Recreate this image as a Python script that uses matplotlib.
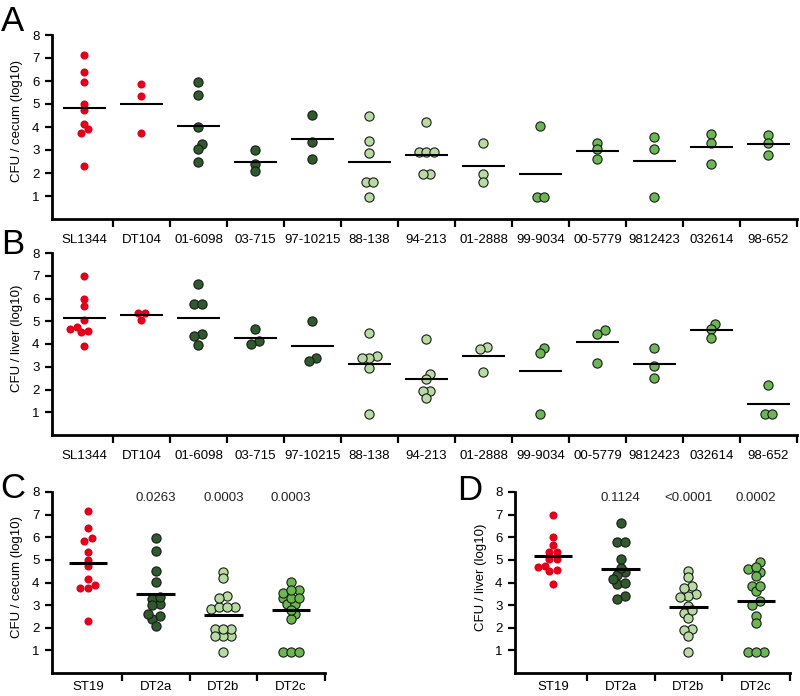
import matplotlib
matplotlib.use('Agg')
import matplotlib.pyplot as plt
from matplotlib.ticker import FixedLocator, NullFormatter
import numpy as np

plt.rcParams['font.family'] = ['Liberation Sans', 'DejaVu Sans']

# strains (panels A and B) and the pooled group each one belongs to (panels C and D)
strains = ['SL1344', 'DT104', '01-6098', '03-715', '97-10215', '88-138', '94-213',
           '01-2888', '99-9034', '00-5779', '9812423', '032614', '98-652']
strain_group = ['ST19', 'ST19', 'DT2a', 'DT2a', 'DT2a', 'DT2b', 'DT2b',
                'DT2b', 'DT2c', 'DT2c', 'DT2c', 'DT2c', 'DT2c']
groups = ['ST19', 'DT2a', 'DT2b', 'DT2c']

# CFU / cecum (log10)
cecum = [
    [7.15, 6.4, 5.95, 4.98, 4.72, 4.15, 3.9, 3.75, 2.3],
    [5.85, 5.35, 3.75],
    [5.95, 5.4, 4.02, 3.27, 3.03, 2.5],
    [3.0, 2.38, 2.07],
    [4.53, 3.36, 2.6],
    [4.48, 3.4, 2.85, 1.63, 1.63, 0.94],
    [4.22, 2.9, 2.9, 2.9, 1.95, 1.95],
    [3.32, 1.95, 1.62],
    [4.04, 0.94, 0.94],
    [3.3, 3.03, 2.6],
    [3.55, 3.06, 0.94],
    [3.68, 3.32, 2.4],
    [3.65, 3.32, 2.77],
]

# CFU / liver (log10)
liver = [
    [6.98, 6.0, 5.65, 5.05, 4.75, 4.68, 4.56, 4.52, 3.92],
    [5.37, 5.35, 5.06],
    [6.63, 5.78, 5.78, 4.46, 4.34, 3.95],
    [4.64, 4.15, 4.0],
    [5.03, 3.39, 3.27],
    [4.49, 3.49, 3.39, 3.38, 2.95, 0.94],
    [4.23, 2.66, 2.44, 1.95, 1.92, 1.63],
    [3.86, 3.76, 2.77],
    [3.83, 3.61, 0.94],
    [4.61, 4.45, 3.17],
    [3.83, 3.02, 2.51],
    [4.9, 4.68, 4.27],
    [2.2, 0.94, 0.94],
]

pvals_cecum = ['', '0.0263', '0.0003', '0.0003']
pvals_liver = ['', '0.1124', '<0.0001', '0.0002']

colors = {'ST19': '#e3001b', 'DT2a': '#2e5a2c', 'DT2b': '#b6dca2', 'DT2c': '#6cb653'}


def swarm(values, center, xpx, ypx, dpx=8.0, row_px=3.5, dcol=5.5):
    # rows of near-equal values are spread side by side and centred,
    # a whole row is shifted sideways when it would sit on points already placed
    vals = np.asarray(values, dtype=float)
    order = np.argsort(vals)
    rows = []
    for i in order:
        if rows and (vals[i] - vals[rows[-1][0]]) * ypx < row_px:
            rows[-1].append(i)
        else:
            rows.append([i])
    shifts = [0.0]
    for k in range(1, 12):
        shifts += [k * dpx / 2, -k * dpx / 2]
    xs = np.zeros(len(vals))
    placed = []
    for row in rows:
        n = len(row)
        base = [(k - (n - 1) / 2) * dpx for k in range(n)]
        for sh in shifts:
            ok = True
            for b, i in zip(base, row):
                for px, j in placed:
                    if np.hypot(b + sh - px, (vals[i] - vals[j]) * ypx) < dcol:
                        ok = False
                        break
                if not ok:
                    break
            if ok:
                break
        for b, i in zip(base, row):
            placed.append((b + sh, i))
            xs[i] = center + (b + sh) / xpx
    return xs


def draw_panel(ax, names, data, group_of, ylabel, ylab_x, line_w, line_lw, xpx,
               label_pad, pvals=None):
    ypx = 22.8
    for i, (name, vals) in enumerate(zip(names, data)):
        g = group_of[i]
        xs = swarm(vals, i, xpx, ypx, dpx=8.0 if g != 'ST19' else 7.5)
        if g == 'ST19':
            ax.scatter(xs, vals, s=34, color=colors[g], linewidths=0, zorder=3)
        else:
            ax.scatter(xs, vals, s=44, color=colors[g], edgecolors='#1a1a1a',
                       linewidths=0.8, zorder=3)
        m = np.mean(vals)
        ax.plot([i - line_w / 2, i + line_w / 2], [m, m], color='black', lw=line_lw,
                solid_capstyle='butt', zorder=4)
        if pvals is not None and pvals[i]:
            ax.text(i, 7.72, pvals[i], ha='center', va='center', fontsize=9.5, color='#222222')
    n = len(names)
    ax.set_ylim(0, 8)
    ax.set_yticks(range(1, 9))
    ax.set_ylabel(ylabel, fontsize=9.5)
    ax.yaxis.set_label_coords(ylab_x, 0.53)
    ax.xaxis.set_major_locator(FixedLocator(np.arange(n) + 0.5))
    ax.xaxis.set_major_formatter(NullFormatter())
    ax.xaxis.set_minor_locator(FixedLocator(np.arange(n)))
    ax.set_xticklabels(names, minor=True)
    ax.tick_params(axis='x', which='major', length=6, width=1.6, direction='out')
    ax.tick_params(axis='x', which='minor', length=0, pad=label_pad, labelsize=9.5)
    ax.tick_params(axis='y', length=5, width=1.6, direction='out', labelsize=9.5, pad=4)
    for s in ['top', 'right']:
        ax.spines[s].set_visible(False)
    for s in ['left', 'bottom']:
        ax.spines[s].set_linewidth(2.0)


fig = plt.figure(figsize=(8, 6.96), dpi=100)
W, H = 800, 696


def add_axes(x0, x1, ytop, ybot):
    return fig.add_axes([x0 / W, 1 - ybot / H, (x1 - x0) / W, (ybot - ytop) / H])


axA = add_axes(52, 797, 35, 219)
draw_panel(axA, strains, cecum, strain_group, 'CFU / cecum (log10)', -0.039,
           0.74, 1.5, 57.1, 11)
axA.set_xlim(-0.57, 12.5)

axB = add_axes(52, 797, 253, 435)
draw_panel(axB, strains, liver, strain_group, 'CFU / liver (log10)', -0.039,
           0.74, 1.5, 57.1, 11)
axB.set_xlim(-0.57, 12.5)

# pooled data for panels C and D
pooled_cecum = [sum((cecum[i] for i in range(len(strains)) if strain_group[i] == g), [])
                for g in groups]
pooled_liver = [sum((liver[i] for i in range(len(strains)) if strain_group[i] == g), [])
                for g in groups]

axC = add_axes(52, 325, 492, 673)
draw_panel(axC, groups, pooled_cecum, groups, 'CFU / cecum (log10)', -0.106,
           0.57, 2.2, 68, 6, pvals_cecum)
axC.set_xlim(-0.53, 3.5)

axD = add_axes(515, 790, 492, 673)
draw_panel(axD, groups, pooled_liver, groups, 'CFU / liver (log10)', -0.102,
           0.57, 2.2, 68, 6, pvals_liver)
axD.set_xlim(-0.56, 3.5)

for letter, x, y in [('A', 1, 31), ('B', 1, 254), ('C', 0, 498), ('D', 457, 500)]:
    fig.text(x / W, 1 - y / H, letter, fontsize=25, va='baseline', ha='left')

fig.savefig('out.png', dpi=100)
